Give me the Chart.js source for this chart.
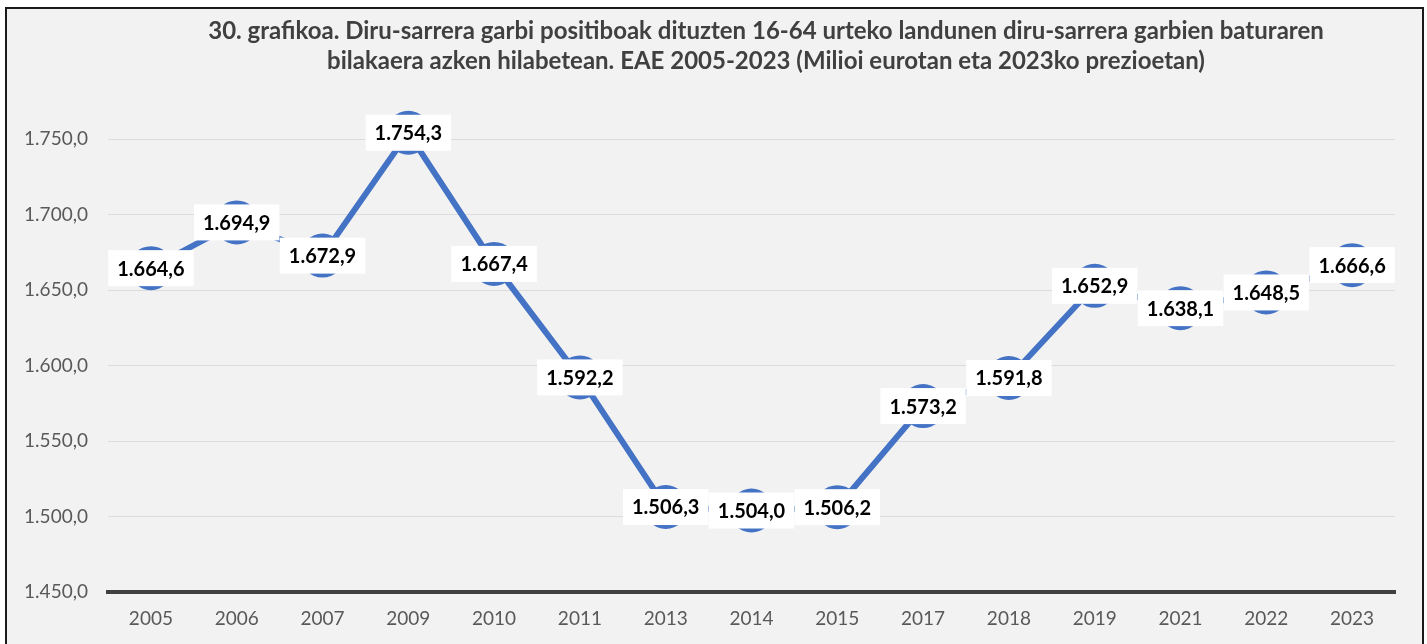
<!DOCTYPE html>
<html>
<head>
<meta charset="utf-8">
<script src="https://cdn.jsdelivr.net/npm/chart.js@4.4.0/dist/chart.umd.min.js"></script>
<style>
    html, body { margin: 0; padding: 0; background: #ffffff; overflow: hidden; }
    .frame {
        position: absolute; left: 5px; top: 7px; width: 1415px; height: 660px;
        border: 2px solid #1a1a1a; background: #f2f2f2;
    }
    .wrap { position: absolute; left: 0; top: 0; width: 1427px; height: 644px; }
</style>
</head>
<body>
<div class="frame"></div>
<div class="wrap"><canvas id="myChart" width="1427" height="644"></canvas></div>
<script>
const years = ['2005', '2006', '2007', '2009', '2010', '2011', '2013', '2014',
    '2015', '2017', '2018', '2019', '2021', '2022', '2023'];
const income = [1664.6, 1694.9, 1672.9, 1754.3, 1667.4, 1592.2, 1506.3, 1504.0,
    1506.2, 1573.2, 1591.8, 1652.9, 1638.1, 1648.5, 1666.6];
const titleLines = [
    '30. grafikoa. Diru-sarrera garbi positiboak dituzten 16-64 urteko landunen diru-sarrera garbien baturaren',
    'bilakaera azken hilabetean. EAE 2005-2023 (Milioi eurotan eta 2023ko prezioetan)'
];

const blue = '#4472c4';

// 1.664,6 style
function fmt(v) {
    const parts = v.toFixed(1).split('.');
    const int = parts[0].replace(/\B(?=(\d{3})+(?!\d))/g, '.');
    return int + ',' + parts[1];
}

const titlePlugin = {
    id: 'titleText',
    beforeDraw(chart) {
        const ctx = chart.ctx;
        ctx.save();
        ctx.fillStyle = '#404040';
        ctx.font = 'bold 24px Lato';
        ctx.textAlign = 'center';
        ctx.textBaseline = 'middle';
        ctx.fillText(titleLines[0], 766, 31);
        ctx.fillText(titleLines[1], 766, 61);
        ctx.restore();
    }
};

const labelPlugin = {
    id: 'boxLabels',
    afterDatasetsDraw(chart) {
        const ctx = chart.ctx;
        const meta = chart.getDatasetMeta(0);
        ctx.save();
        ctx.font = 'bold 20px Lato';
        ctx.textAlign = 'center';
        ctx.textBaseline = 'middle';
        meta.data.forEach((pt, i) => {
            const txt = fmt(income[i]);
            const w = ctx.measureText(txt).width + 18;
            const h = 36;
            ctx.fillStyle = '#ffffff';
            ctx.fillRect(pt.x - w / 2, pt.y - h / 2, w, h);
            ctx.fillStyle = '#000000';
            ctx.fillText(txt, pt.x, pt.y + 1);
        });
        ctx.restore();
    }
};

const ctx = document.getElementById('myChart').getContext('2d');

const myChart = new Chart(ctx, { //eslint-disable-line
    type: 'line',
    data: {
        labels: years,
        datasets: [
            {
                data: income,
                borderColor: blue,
                backgroundColor: blue,
                borderWidth: 6,
                pointRadius: 22,
                pointHoverRadius: 22,
                pointBorderWidth: 0,
                tension: 0,
                clip: false
            }
        ]
    },
    options: {
        responsive: false,
        animation: false,
        events: [],
        layout: { padding: { top: 94, right: 32, left: 0, bottom: 0 } },
        plugins: {
            legend: { display: false },
            title: { display: false },
            tooltip: { enabled: false }
        },
        scales: {
            x: {
                offset: true,
                grid: { display: false, drawTicks: false },
                border: { display: true, color: '#404040', width: 4 },
                ticks: {
                    color: '#595959',
                    font: { family: 'Lato', size: 19 },
                    padding: 15,
                    maxRotation: 0
                },
                afterFit(scale) { scale.height = 52; }
            },
            y: {
                min: 1450,
                max: 1780,
                grid: { color: '#dcdcdc', lineWidth: 1, drawTicks: false },
                border: { display: false },
                ticks: {
                    stepSize: 50,
                    includeBounds: false,
                    color: '#595959',
                    font: { family: 'Lato', size: 19 },
                    padding: 20,
                    callback: (v) => fmt(v)
                },
                afterFit(scale) { scale.width = 108; }
            }
        }
    },
    plugins: [titlePlugin, labelPlugin]
});
</script>
</body>
</html>
